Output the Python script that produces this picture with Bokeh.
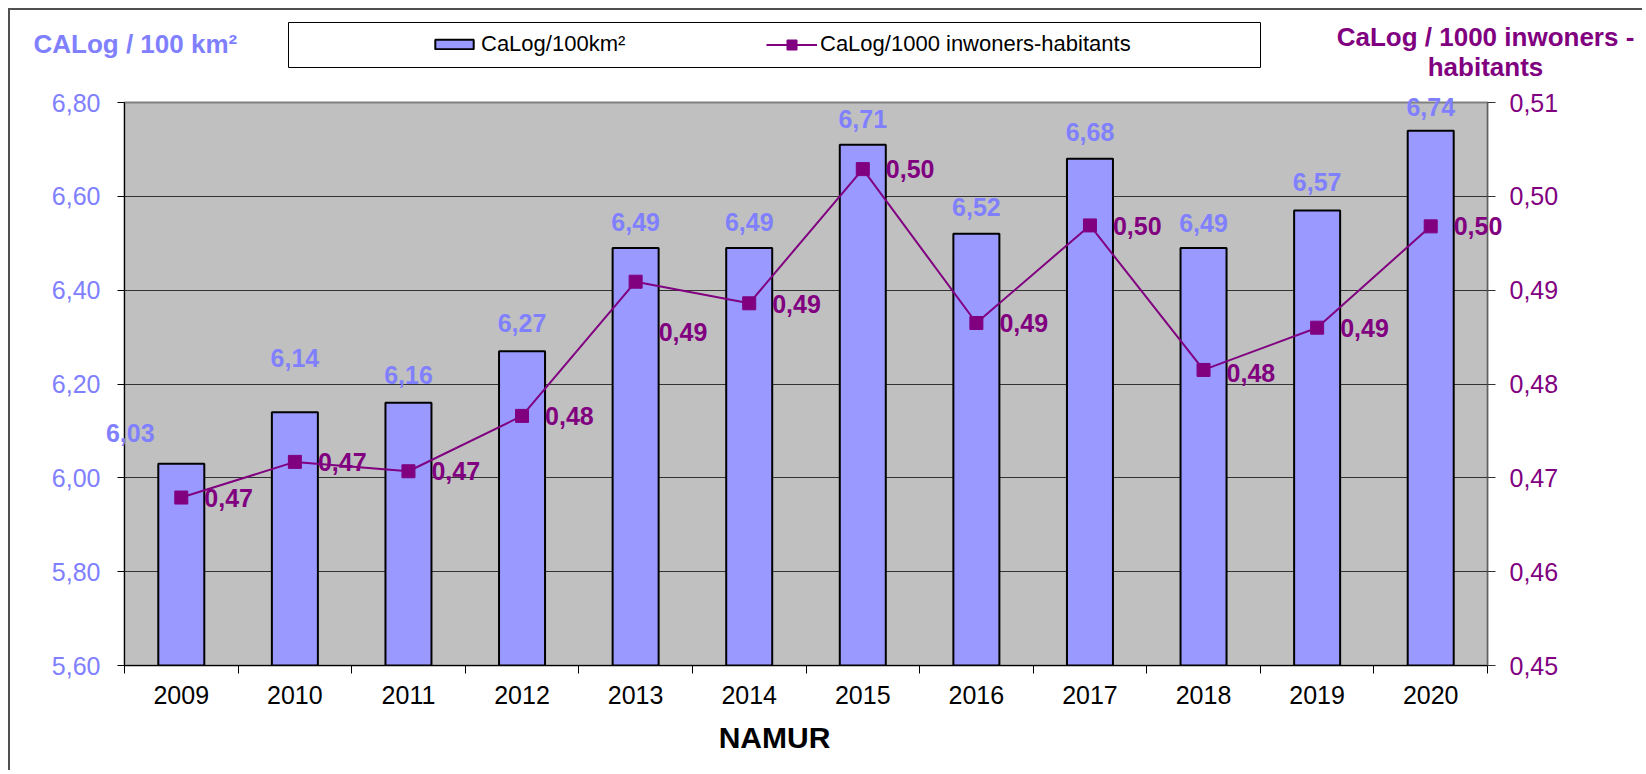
from bokeh.plotting import figure
from bokeh.models import (Range1d, LinearAxis, FixedTicker, CustomJSTickFormatter, ColumnDataSource,
                          LabelSet, Label, Legend, LegendItem, BoxAnnotation)
from bokeh.core.properties import value
from bokeh.embed import file_html
from bokeh.resources import INLINE

# ---------------- data ----------------
years = ["2009", "2010", "2011", "2012", "2013", "2014", "2015", "2016", "2017", "2018", "2019", "2020"]
calog_per_100km2 = [6.03, 6.14, 6.16, 6.27, 6.49, 6.49, 6.71, 6.52, 6.68, 6.49, 6.57, 6.74]
calog_per_1000_inh = [0.4679, 0.4717, 0.4707, 0.4766, 0.4909, 0.4886, 0.5029, 0.4865, 0.4969, 0.4815, 0.4860, 0.4968]
left_ticks = [5.6, 5.8, 6.0, 6.2, 6.4, 6.6, 6.8]
right_ticks = [0.45, 0.46, 0.47, 0.48, 0.49, 0.50, 0.51]
bar_name = "CaLog/100km²"
line_name = "CaLog/1000 inwoners-habitants"

# ---------------- label placement (style) ----------------
bar_label_dx = [-51, 0, 0, 0, 0, 0, 0, 0, 0, 0, 0, 0]
bar_label_dy = [31, 54, 28, 28, 26, 26, 26, 27, 27, 25, 28, 24]
line_label_dy = [0, 0, 0, 0, -50, -1, 0, 0, -1, -3, 0, 0]

BLUE = "#8080FF"
BAR = "#9999FF"
PURPLE = "#800080"
FONT = "Liberation Sans"

# layout geometry (page pixels)
OX, OY = 10, 10            # canvas origin on the page (8px margin + 2px frame)
W, H = 1634, 762           # canvas size
FL, FT, FW, FH = 124, 102, 1363, 563   # plot area on the page
CL, CT = FL - OX, FT - OY  # plot area inside the canvas


def fmt(v):
    return f"{v:.2f}".replace(".", ",")


def overlay_range(lo, hi, n_pix, start_pix, size_pix, flip=False):
    """Range that maps the whole canvas so that [lo, hi] covers the plot area."""
    per = (hi - lo) / size_pix
    if flip:  # vertical: hi at the top of the plot area
        return Range1d(hi - (n_pix - start_pix) * per, hi + start_pix * per)
    return Range1d(lo - start_pix * per, lo + (n_pix - start_pix) * per)


def dx(px):
    return (px - FL) / FW * len(years)


def dy(py):
    return left_ticks[-1] - (py - FT) / FH * (left_ticks[-1] - left_ticks[0])


xpos = [i + 0.5 for i in range(len(years))]
src = ColumnDataSource(dict(
    x=xpos, area=calog_per_100km2, inh=calog_per_1000_inh,
    area_txt=[fmt(v) for v in calog_per_100km2],
    inh_txt=[fmt(v) for v in calog_per_1000_inh],
    bdx=bar_label_dx, bdy=bar_label_dy, ldy=line_label_dy,
))

# ================= main chart =================
p = figure(width=W, height=H, output_backend="svg", toolbar_location=None,
           x_range=Range1d(0, len(years)), y_range=Range1d(left_ticks[0], left_ticks[-1]),
           min_border_left=CL, min_border_top=CT,
           min_border_right=W - CL - FW, min_border_bottom=H - CT - FH)
p.margin = (8, 0, 0, 8)
p.styles = {"border-left": "2px solid #505050", "border-top": "2px solid #505050"}
p.extra_y_ranges = {"y2": Range1d(right_ticks[0], right_ticks[-1])}
p.background_fill_color = "#C0C0C0"
p.border_fill_color = "white"
p.outline_line_color = "#808080"
p.outline_line_width = 2

formatter = CustomJSTickFormatter(code="return tick.toFixed(2).replace('.', ',');")

bar_style = dict(fill_color=BAR, line_color="black", line_width=2)
bars = p.vbar(x="x", top="area", bottom=left_ticks[0], width=0.405, source=src, **bar_style)
p.line(x="x", y="inh", source=src, y_range_name="y2", line_color=PURPLE, line_width=2)
p.scatter(x="x", y="inh", source=src, y_range_name="y2", marker="square", size=13,
          fill_color=PURPLE, line_color=PURPLE)

p.xgrid.visible = False
p.ygrid.grid_line_color = "#333333"
p.ygrid.grid_line_width = 1

xa = p.xaxis[0]
xa.ticker = FixedTicker(ticks=xpos, minor_ticks=list(range(len(years) + 1)))
xa.major_label_overrides = {x: y for x, y in zip(xpos, years)}
xa.major_tick_line_color = None
xa.major_tick_out = 0
xa.major_tick_in = 0
xa.minor_tick_line_color = "black"
xa.minor_tick_out = 8
xa.minor_tick_in = 0
xa.axis_line_color = "black"
xa.major_label_text_font = FONT
xa.major_label_text_font_size = "25px"
xa.major_label_text_color = "black"
xa.major_label_standoff = 12

ya = p.yaxis[0]
ya.ticker = FixedTicker(ticks=left_ticks)
ya.formatter = formatter
ya.major_label_text_color = BLUE
ya.major_label_text_font = FONT
ya.major_label_text_font_size = "25px"
ya.major_tick_out = 7
ya.major_tick_in = 0
ya.minor_tick_line_color = None
ya.axis_line_color = "black"
ya.major_tick_line_color = "black"
ya.major_label_standoff = 17

ra = LinearAxis(y_range_name="y2", ticker=FixedTicker(ticks=right_ticks), formatter=formatter)
ra.major_label_text_color = PURPLE
ra.major_label_text_font = FONT
ra.major_label_text_font_size = "25px"
ra.major_tick_out = 8
ra.major_tick_in = 0
ra.minor_tick_line_color = None
ra.axis_line_color = "#606060"
ra.major_tick_line_color = "#333333"
ra.major_label_standoff = 14
p.add_layout(ra, "right")

# ================= transparent overlay for texts (not clipped at the plot edge) =================
q = figure(width=W, height=H, output_backend="svg", toolbar_location=None,
           x_axis_location=None, y_axis_location=None, min_border=0,
           x_range=overlay_range(0, len(years), W, CL, FW),
           y_range=overlay_range(left_ticks[0], left_ticks[-1], H, CT, FH, flip=True))
q.extra_y_ranges = {"y2": overlay_range(right_ticks[0], right_ticks[-1], H, CT, FH, flip=True)}
q.styles = {"position": "absolute", "left": f"{OX}px", "top": f"{OY}px"}
q.background_fill_alpha = 0
q.border_fill_alpha = 0
q.outline_line_color = None
q.xgrid.visible = False
q.ygrid.visible = False

q.add_layout(LabelSet(x="x", y="area", text="area_txt", source=src, x_offset="bdx", y_offset="bdy",
                      text_align="center", text_baseline="middle", text_color=BLUE,
                      text_font=value(FONT), text_font_size="25px", text_font_style="bold"))
q.add_layout(LabelSet(x="x", y="inh", text="inh_txt", source=src, y_range_name="y2",
                      x_offset=23, y_offset="ldy",
                      text_align="left", text_baseline="middle", text_color=PURPLE,
                      text_font=value(FONT), text_font_size="25px", text_font_style="bold"))

q.add_layout(Label(x=dx(33), y=dy(43), text="CALog / 100 km²",
                   text_align="left", text_baseline="middle", text_color=BLUE,
                   text_font=FONT, text_font_size="26px", text_font_style="bold"))
q.add_layout(Label(x=dx(1485), y=dy(51), text="CaLog / 1000 inwoners -\nhabitants",
                   text_align="center", text_baseline="middle", text_color=PURPLE, text_line_height=1.0,
                   text_font=FONT, text_font_size="26px", text_font_style="bold"))
q.add_layout(Label(x=dx(774), y=dy(737), text="NAMUR",
                   text_align="center", text_baseline="middle", text_color="black",
                   text_font=FONT, text_font_size="30px", text_font_style="bold"))

# legend box
q.add_layout(BoxAnnotation(left=dx(288), right=dx(1260), top=dy(22), bottom=dy(67),
                           fill_color="white", fill_alpha=1, line_color="black", line_width=1, line_alpha=1))
# legend keys (renderers holding one undrawn NaN point, used only for the keys)
nan = float("nan")
key_src = ColumnDataSource(dict(x=[nan], y=[nan]))
key_bar = q.vbar(x="x", top="y", width=0.4, source=key_src, **bar_style)
key_line = q.line(x="x", y="y", source=key_src, line_color=PURPLE, line_width=2)
key_dot = q.scatter(x="x", y="y", source=key_src, marker="square", fill_color=PURPLE, line_color=PURPLE)

leg_common = dict(orientation="horizontal", border_line_color=None, background_fill_alpha=0,
                  label_standoff=3, padding=0, margin=0, label_height=25,
                  label_text_font=FONT, label_text_font_size="22px", label_text_color="black",
                  label_text_baseline="middle")
leg1 = Legend(items=[LegendItem(label=bar_name, renderers=[key_bar], index=0)],
              location=(430 - OX, H - (57 - OY)), glyph_width=48, glyph_height=12, **leg_common)
leg2 = Legend(items=[LegendItem(label=line_name, renderers=[key_line, key_dot], index=0)],
              location=(766 - OX, H - (57 - OY)), glyph_width=51, glyph_height=25, **leg_common)
q.add_layout(leg1)
q.add_layout(leg2)

open("out.html", "w").write(file_html([p, q], INLINE))
